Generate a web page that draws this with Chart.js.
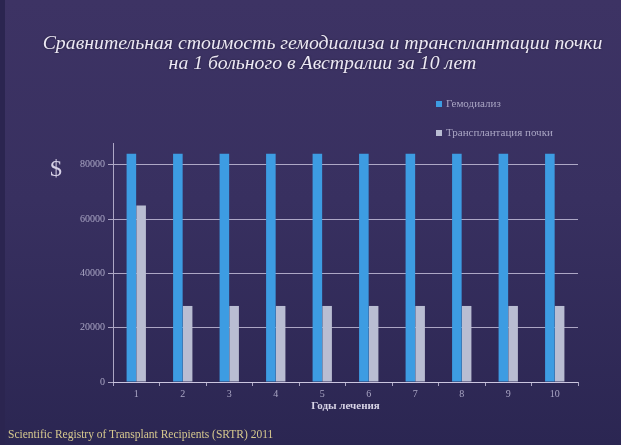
<!DOCTYPE html>
<html>
  <head>
    <meta charset="utf-8" />
    <title>Стоимость гемодиализа и трансплантации</title>
    <script src="https://cdn.jsdelivr.net/npm/chart.js"></script>
    <style>
      html,
      body {
        margin: 0;
        padding: 0;
      }
      body {
        width: 621px;
        height: 445px;
        overflow: hidden;
        position: relative;
        background: linear-gradient(180deg, #3d3364 0%, #383060 45%, #2b2652 100%);
        font-family: "Liberation Serif", "DejaVu Serif", serif;
      }
      .edge {
        position: absolute;
        left: 0;
        top: 0;
        width: 5px;
        height: 445px;
        background: #2b2550;
      }
      #chartBox {
        position: absolute;
        left: 0;
        top: 0;
        width: 621px;
        height: 445px;
      }
      .title {
        position: absolute;
        left: 0;
        width: 645px;
        text-align: center;
        font-style: italic;
        font-size: 19.8px;
        color: #ece8f4;
        text-shadow: 0 0 2px rgba(0, 0, 0, 0.5);
        white-space: nowrap;
      }
      .dollar {
        position: absolute;
        left: 50px;
        top: 155px;
        font-size: 24px;
        color: #d6d0e6;
      }
      #legend {
        position: absolute;
        left: 436px;
        top: 96px;
        font-size: 11px;
        color: #aaa6c4;
      }
      .legend-item {
        height: 14px;
        line-height: 14px;
        margin-bottom: 15px;
        white-space: nowrap;
      }
      .legend-item span.box {
        display: inline-block;
        width: 6px;
        height: 6px;
        margin-right: 4px;
        vertical-align: 0px;
      }
      .footer {
        position: absolute;
        left: 8px;
        top: 428px;
        font-size: 11.5px;
        color: #d6c88e;
        white-space: nowrap;
      }
    </style>
  </head>
  <body>
    <div class="edge"></div>
    <div id="chartBox"><canvas id="costChart" width="621" height="445"></canvas></div>
    <div class="title" style="top: 31px">Сравнительная стоимость гемодиализа и трансплантации почки</div>
    <div class="title" style="top: 51px">на 1 больного в Австралии за 10 лет</div>
    <div class="dollar">$</div>
    <div id="legend"></div>
    <div class="footer">Scientific Registry of Transplant Recipients (SRTR) 2011</div>

    <script>
      const years = ["1", "2", "3", "4", "5", "6", "7", "8", "9", "10"];
      const dialysisCost = [84000, 84000, 84000, 84000, 84000, 84000, 84000, 84000, 84000, 84000];
      const transplantCost = [65000, 28000, 28000, 28000, 28000, 28000, 28000, 28000, 28000, 28000];
      const yTicks = [0, 20000, 40000, 60000, 80000];

      const gridColor = "rgba(214, 208, 232, 0.75)";
      const tickColor = "#aaa6c4";

      const chart = new Chart(document.getElementById("costChart").getContext("2d"), {
        type: "bar",
        data: {
          labels: years,
          datasets: [
            {
              label: "Гемодиализ",
              data: dialysisCost,
              backgroundColor: "#3d9ce2",
              categoryPercentage: 0.42,
              barPercentage: 0.98,
            },
            {
              label: "Трансплантация почки",
              data: transplantCost,
              backgroundColor: "#b9bdd2",
              categoryPercentage: 0.42,
              barPercentage: 0.98,
            },
          ],
        },
        options: {
          responsive: false,
          animation: false,
          layout: {
            padding: { left: 0, right: 43, top: 143, bottom: 30 },
          },
          plugins: {
            legend: { display: false },
            title: { display: false },
            tooltip: { enabled: false },
          },
          scales: {
            x: {
              grid: {
                display: true,
                drawOnChartArea: false,
                tickLength: 4,
                color: gridColor,
              },
              border: { color: gridColor, width: 1 },
              ticks: {
                color: tickColor,
                padding: 2,
                font: { family: "Liberation Serif", size: 10 },
              },
              title: {
                display: true,
                text: "Годы лечения",
                color: "#d8d4e6",
                padding: { top: 0, bottom: 2 },
                font: { family: "Liberation Serif", size: 11, weight: "bold" },
              },
              afterFit: (s) => {
                s.height = 33;
              },
            },
            y: {
              min: 0,
              max: 88000,
              afterBuildTicks: (s) => {
                s.ticks = yTicks.map((v) => ({ value: v }));
              },
              grid: {
                color: gridColor,
                tickLength: 5,
              },
              border: { color: gridColor, width: 1 },
              ticks: {
                color: tickColor,
                padding: 3,
                font: { family: "Liberation Serif", size: 10 },
                callback: (v) => String(v),
              },
              afterFit: (s) => {
                s.width = 113;
              },
            },
          },
        },
      });

      // legend from the chart's datasets
      const legendDiv = document.getElementById("legend");
      chart.data.datasets.forEach((ds) => {
        const item = document.createElement("div");
        item.className = "legend-item";
        const box = document.createElement("span");
        box.className = "box";
        box.style.background = ds.backgroundColor;
        item.appendChild(box);
        item.appendChild(document.createTextNode(ds.label));
        legendDiv.appendChild(item);
      });
    </script>
  </body>
</html>
